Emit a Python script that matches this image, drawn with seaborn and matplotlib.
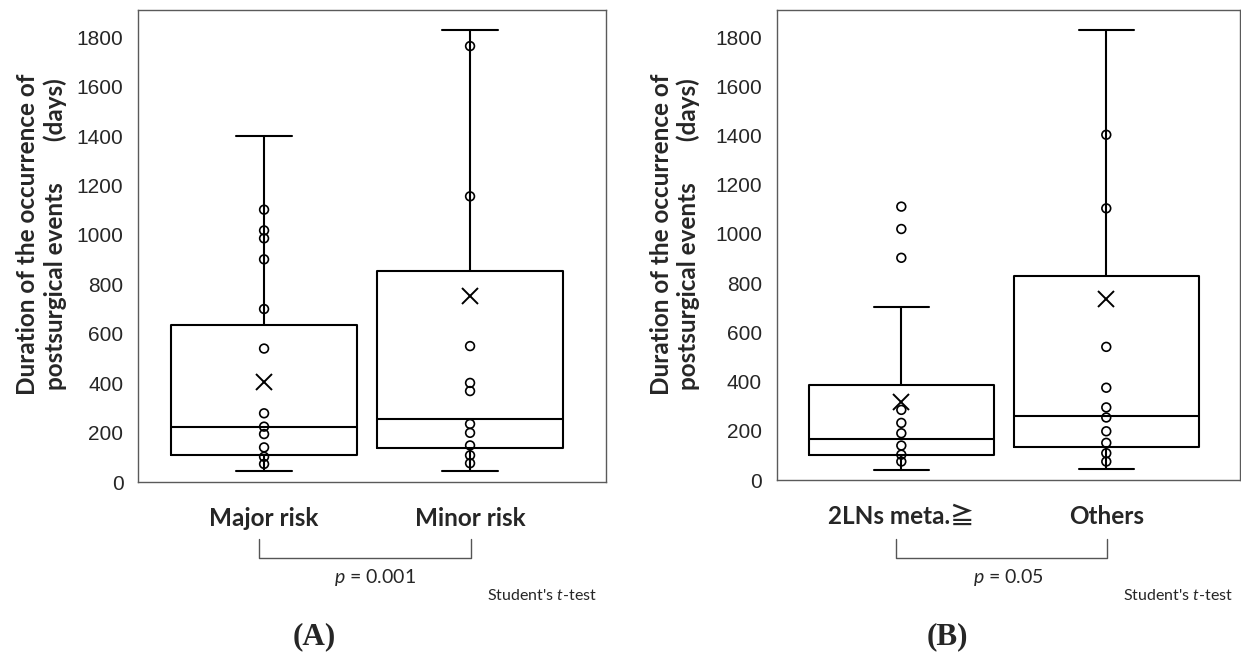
import warnings
warnings.filterwarnings("ignore")
import numpy as np
import pandas as pd
import matplotlib
matplotlib.use("Agg")
import matplotlib.pyplot as plt
import seaborn as sns
from matplotlib.lines import Line2D

# ---------------- data ----------------
# Panel A
groups_a = ["Major risk", "Minor risk"]
whislo_a = [43, 43]
q1_a = [109, 136]
median_a = [222, 254]
q3_a = [635, 855]
whishi_a = [1400, 1830]
mean_a = [403, 752]
points_major = [1102, 1018, 986, 901, 700, 540, 278, 224, 194, 140, 102, 73]
points_minor = [1764, 1156, 550, 401, 368, 235, 199, 148, 108, 76]
p_text_a = "$p$ = 0.001"

# Panel B
groups_b = ["2LNs meta.\u2267", "Others"]
whislo_b = [42, 44]
q1_b = [102, 133]
median_b = [168, 261]
q3_b = [388, 827]
whishi_b = [704, 1830]
mean_b = [319, 736]
points_2ln = [1111, 1020, 903, 285, 232, 190, 140, 103, 75]
points_others = [1403, 1104, 541, 375, 295, 254, 198, 151, 109, 75]
p_text_b = "$p$ = 0.05"

ytick_values = [0, 200, 400, 600, 800, 1000, 1200, 1400, 1600, 1800]
ylabel_text = "Duration of the occurrence of\npostsurgical events       (days)"
test_text = "Student's $t$-test"

# ---------------- style ----------------
sns.set_style("white")
plt.rcParams["font.family"] = ["Liberation Sans", "DejaVu Sans"]
plt.rcParams["mathtext.fontset"] = "custom"
plt.rcParams["mathtext.rm"] = "Lato"
plt.rcParams["mathtext.it"] = "Lato:italic"
LATO = ["Lato", "Noto Sans CJK JP", "DejaVu Sans"]

W, H = 1241, 652
fig = plt.figure(figsize=(W / 100, H / 100), dpi=100)


def fx(x):
    return x / W


def fy(y):
    return 1 - y / H


def box_frame(groups, lo, q1, med, q3, hi):
    rows = []
    for g, a, b, c, d, e in zip(groups, lo, q1, med, q3, hi):
        for v in (a, b, c, d, e):
            rows.append((g, v))
    return pd.DataFrame(rows, columns=["group", "value"])


def points_frame(groups, lists):
    rows = []
    for g, vals in zip(groups, lists):
        for v in vals:
            rows.append((g, v))
    return pd.DataFrame(rows, columns=["group", "value"])


def draw_panel(rect, groups, lo, q1, med, q3, hi, means, pts, xlim):
    ax = fig.add_axes(rect)
    bdf = box_frame(groups, lo, q1, med, q3, hi)
    sns.boxplot(data=bdf, x="group", y="value", order=groups, whis=(0, 100),
                width=0.9, fill=False, color="black", linewidth=1.5,
                showfliers=False, capwidths=0.27, ax=ax)
    pdf = points_frame(groups, pts)
    sns.stripplot(data=pdf, x="group", y="value", order=groups, jitter=False,
                  size=6.3, color="black", facecolor="none", edgecolor="black",
                  linewidth=1.2, ax=ax, zorder=4)
    mdf = pd.DataFrame({"group": groups, "value": means})
    sns.pointplot(data=mdf, x="group", y="value", order=groups, color="black",
                  marker="x", linestyle="none", markersize=11,
                  markeredgewidth=1.4, errorbar=None, ax=ax)
    ax.set_xlim(*xlim)
    ax.set_ylim(0, 1910)
    ax.set_yticks(ytick_values)
    ax.set_yticklabels([str(v) for v in ytick_values], fontsize=15)
    ax.tick_params(axis="y", length=0, pad=10.5)
    ax.tick_params(axis="x", length=0, pad=18)
    for lbl in ax.get_xticklabels():
        lbl.set_fontfamily(LATO)
        lbl.set_fontweight("bold")
        lbl.set_fontsize(17.5)
    ax.set_xlabel("")
    ax.set_ylabel("")
    for s in ax.spines.values():
        s.set_visible(True)
        s.set_color("#5a5a5a")
        s.set_linewidth(1.0)
    return ax


ax_a = draw_panel([fx(138), fy(482), (606 - 138) / W, (482 - 10) / H],
                  groups_a, whislo_a, q1_a, median_a, q3_a, whishi_a, mean_a,
                  [points_major, points_minor], (-0.612, 1.660))
ax_b = draw_panel([fx(776.7), fy(480), (1239.5 - 776.7) / W, (480 - 10) / H],
                  groups_b, whislo_b, q1_b, median_b, q3_b, whishi_b, mean_b,
                  [points_2ln, points_others], (-0.608, 1.650))

# y labels
for xc in (41.5, 675):
    fig.text(fx(xc), fy(234), ylabel_text, rotation=90, ha="center", va="center",
             multialignment="center", fontsize=17.5, fontweight="bold",
             family=LATO, linespacing=1.2)

# brackets
for x0, x1 in ((259, 471), (896, 1107)):
    fig.add_artist(Line2D([fx(x0), fx(x0), fx(x1), fx(x1)],
                          [fy(539), fy(558), fy(558), fy(539)],
                          color="#555555", linewidth=1.0))

# p-values and test names
fig.text(fx(375), fy(577), p_text_a, ha="center", va="center", fontsize=14,
         family=LATO)
fig.text(fx(1008), fy(577), p_text_b, ha="center", va="center", fontsize=14,
         family=LATO)
fig.text(fx(541.5), fy(595), test_text, ha="center", va="center", fontsize=11.5,
         family=LATO)
fig.text(fx(1178), fy(596), test_text, ha="center", va="center", fontsize=11.5,
         family=LATO)

# panel letters
fig.text(fx(314), fy(637), "(A)", ha="center", va="center", fontsize=22.5,
         fontweight="bold", family=["Liberation Serif"])
fig.text(fx(947.5), fy(637), "(B)", ha="center", va="center", fontsize=22.5,
         fontweight="bold", family=["Liberation Serif"])

fig.savefig("out.png", dpi=100)
